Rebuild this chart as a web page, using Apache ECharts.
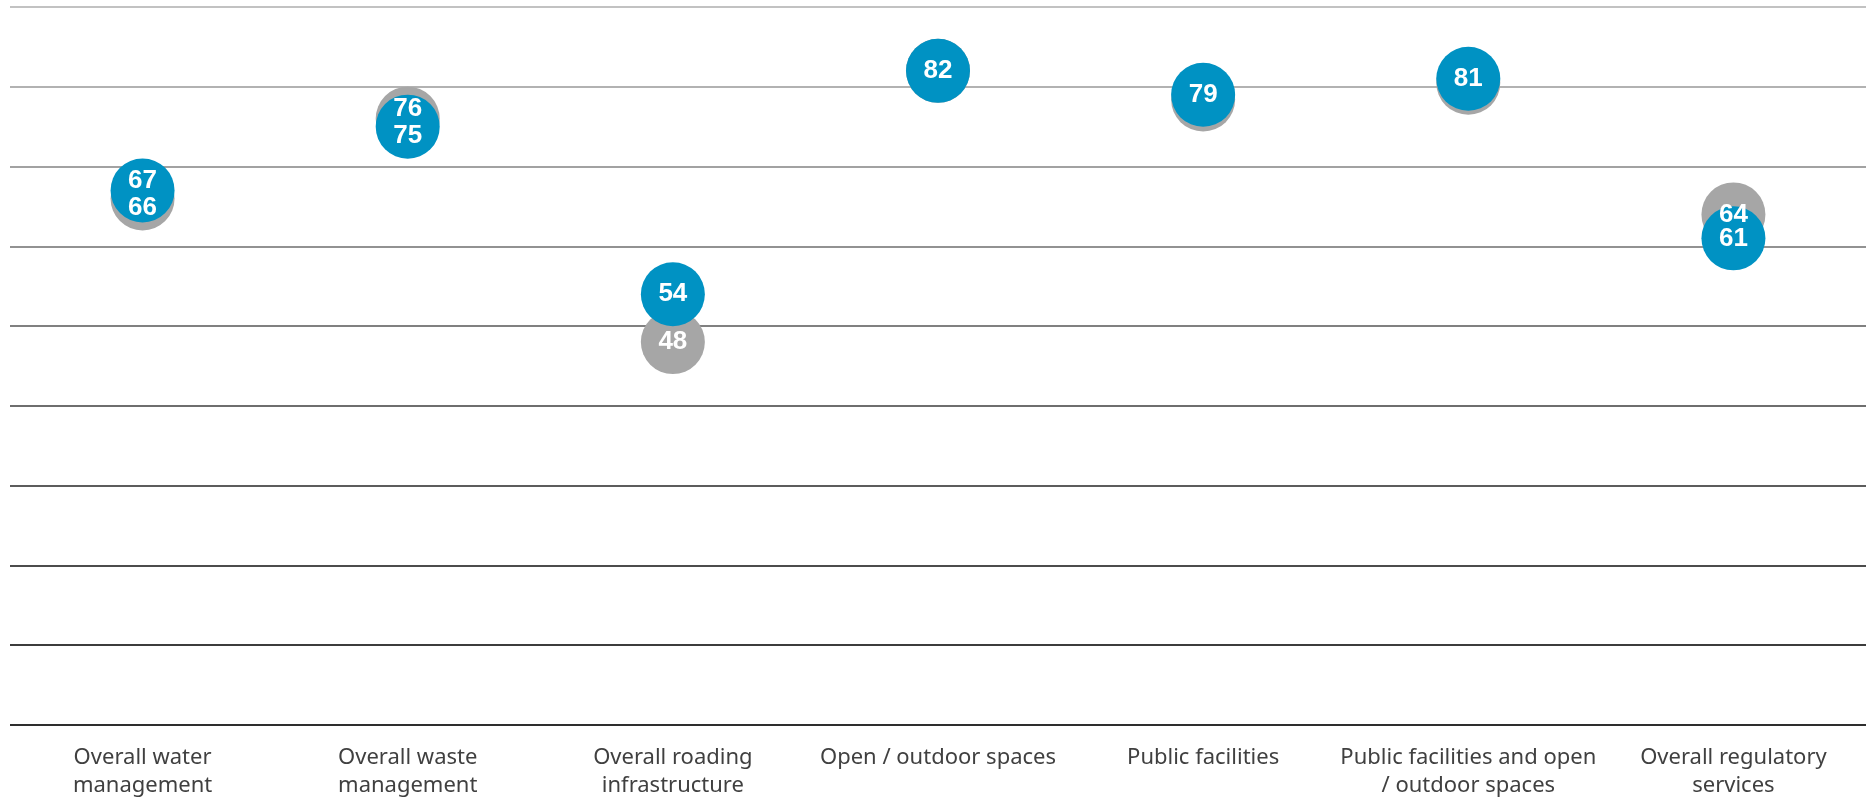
<!DOCTYPE html>
<html>
<head>
<meta charset="utf-8">
<script src="https://cdn.jsdelivr.net/npm/echarts@6/dist/echarts.min.js"></script>
<style>
  html, body { margin: 0; padding: 0; background: #fff; }
  #chart { width: 1872px; height: 797px; }
</style>
</head>
<body>
<div id="chart"></div>
<script>
const categories = [
  'Overall water\nmanagement',
  'Overall waste\nmanagement',
  'Overall roading\ninfrastructure',
  'Open / outdoor spaces',
  'Public facilities',
  'Public facilities and open\n/ outdoor spaces',
  'Overall regulatory\nservices'
]
// previous result (grey) and current result (blue)
const previousScores = [66, 76, 48, 82, 78.4, 80.5, 64]
const currentScores = [67, 75, 54, 82, 79, 81, 61]

const yTicks = { min: 0, max: 90, interval: 10 }

const BLUE = '#0092c3'
const GREY = '#a6a6a6'
const PX_PER_UNIT = 7.98
const LABEL_GAP = 27

// push labels apart when the two circles nearly overlap
const labelShift = (a, b) => {
  const d = Math.abs(a - b)
  if (d < 1 || d >= 3) return 0
  return (LABEL_GAP - d * PX_PER_UNIT) / 2
}

const prevData = previousScores.map((v, i) => {
  const c = currentScores[i]
  const s = labelShift(v, c)
  return {
    value: v,
    label: {
      show: Math.abs(v - c) >= 1,
      offset: [0, v > c ? -s : s]
    }
  }
})
const currData = currentScores.map((v, i) => {
  const p = previousScores[i]
  const s = labelShift(v, p)
  return {
    value: v,
    label: { offset: [0, v > p ? -s : s] }
  }
})

const chart = echarts.init(document.getElementById('chart'))

const labelStyle = {
  show: true,
  position: 'inside',
  color: '#fff',
  fontFamily: '"Liberation Sans", Arial, sans-serif',
  fontWeight: 'bold',
  fontSize: 26,
  formatter: p => Math.round(p.value)
}

chart.setOption({
  animation: false,
  grid: { left: 10, right: 6, top: 7, bottom: 72, outerBoundsMode: 'none' },
  xAxis: {
    type: 'category',
    data: categories,
    axisLine: { show: false },
    axisTick: { show: false },
    axisLabel: {
      margin: 19,
      color: '#404040',
      fontFamily: '"Noto Sans", sans-serif',
      fontSize: 22,
      lineHeight: 28,
      interval: 0
    }
  },
  yAxis: {
    type: 'value',
    min: yTicks.min,
    max: yTicks.max,
    interval: yTicks.interval,
    axisLabel: { show: false },
    axisLine: { show: false },
    axisTick: { show: false },
    splitLine: {
      lineStyle: {
        width: 2,
        color: ['#2e2e2e', '#3c3c3c', '#4c4c4c', '#5c5c5c', '#6e6e6e',
                '#808080', '#929292', '#a2a2a2', '#b2b2b2', '#c2c2c2']
      }
    }
  },
  series: [
    {
      name: 'Previous',
      type: 'scatter',
      symbolSize: 64,
      itemStyle: { color: GREY, opacity: 1 },
      label: labelStyle,
      data: prevData
    },
    {
      name: 'Current',
      type: 'scatter',
      symbolSize: 64,
      itemStyle: { color: BLUE, opacity: 1 },
      label: labelStyle,
      data: currData
    }
  ]
})
</script>
</body>
</html>
